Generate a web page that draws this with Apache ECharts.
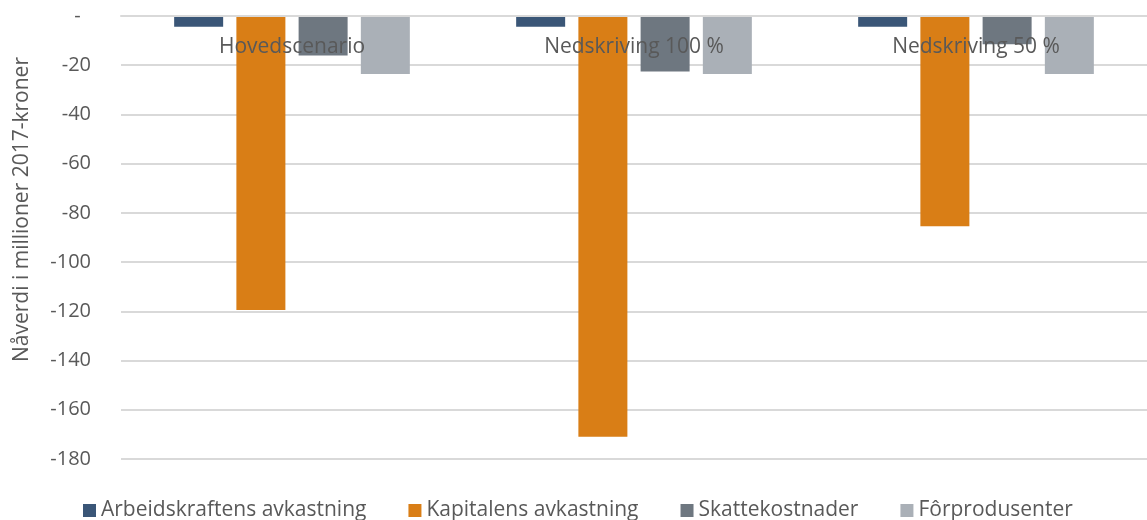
<!DOCTYPE html>
<html>
<head>
<meta charset="utf-8">
<script src="https://cdn.jsdelivr.net/npm/echarts@6/dist/echarts.min.js"></script>
<style>
  html, body { margin: 0; padding: 0; background: #fff; }
  #chart { width: 1147px; height: 520px; }
</style>
</head>
<body>
<div id="chart"></div>
<script>
// kategorier og verdier (nåverdi, mill. 2017-kroner)
var categories = ['Hovedscenario', 'Nedskriving 100 %', 'Nedskriving 50 %'];
var arbeidskraft = [-4.4, -4.4, -4.4];
var kapital = [-119.5, -171, -85.4];
var skatt = [-16, -22.6, -11.5];
var forprodusenter = [-23.6, -23.6, -23.6];
var seriesNames = ['Arbeidskraftens avkastning', 'Kapitalens avkastning', 'Skattekostnader', 'Fôrprodusenter'];
var colors = ['#3a5677', '#d97e16', '#6e7780', '#aab0b7'];

var chart = echarts.init(document.getElementById('chart'));
var font = '"Open Sans", "Noto Sans", sans-serif';

function bar(name, data, color) {
    return {
        name: name,
        type: 'bar',
        data: data,
        barWidth: 49,
        barGap: '27%',
        itemStyle: { color: color }
    };
}

var option = {
    animation: false,
    color: colors,
    textStyle: { fontFamily: font },
    grid: { left: 121, right: -3, top: 16, bottom: 61 },
    legend: {
        left: 83,
        top: 500,
        padding: 0,
        icon: 'rect',
        itemWidth: 13,
        itemHeight: 13,
        itemGap: 42,
        textStyle: { fontSize: 21, color: '#595959', fontFamily: font },
        data: seriesNames
    },
    xAxis: {
        type: 'category',
        data: categories,
        position: 'top',
        z: 10,
        axisLine: { show: true, onZero: false, lineStyle: { color: '#d9d9d9', width: 2 } },
        axisTick: { show: false },
        axisLabel: { inside: true, margin: 21, fontSize: 21, color: '#595959', fontFamily: font }
    },
    yAxis: {
        type: 'value',
        min: -180,
        max: 0,
        interval: 20,
        name: 'Nåverdi i millioner 2017-kroner',
        nameLocation: 'middle',
        nameGap: 88,
        nameTextStyle: { fontSize: 21, color: '#595959', fontFamily: font, padding: [0, 0, 0, 56] },
        axisLine: { show: false },
        axisTick: { show: false },
        splitLine: { lineStyle: { color: '#d9d9d9', width: 2 } },
        axisLabel: {
            margin: 30,
            fontSize: 20,
            color: '#595959',
            fontFamily: font,
            formatter: function(v) { return v === 0 ? '-  ' : String(v); }
        }
    },
    series: [
        bar(seriesNames[0], arbeidskraft, colors[0]),
        bar(seriesNames[1], kapital, colors[1]),
        bar(seriesNames[2], skatt, colors[2]),
        bar(seriesNames[3], forprodusenter, colors[3])
    ]
};

chart.setOption(option);
</script>
</body>
</html>
